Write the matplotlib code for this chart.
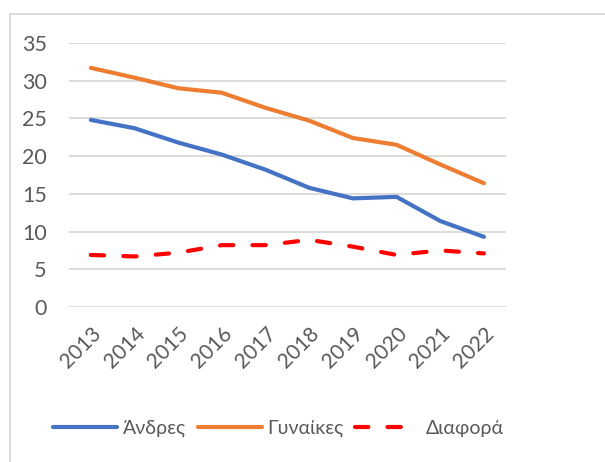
import matplotlib
matplotlib.use("Agg")
import matplotlib.pyplot as plt
from matplotlib.lines import Line2D

years = ["2013", "2014", "2015", "2016", "2017", "2018", "2019", "2020", "2021", "2022"]
andres = [24.8, 23.7, 21.8, 20.2, 18.2, 15.8, 14.4, 14.6, 11.4, 9.3]
gynaikes = [31.7, 30.4, 29.0, 28.4, 26.4, 24.7, 22.4, 21.5, 18.9, 16.4]
diafora = [6.9, 6.7, 7.2, 8.2, 8.2, 8.9, 8.0, 6.9, 7.5, 7.1]

plt.rcParams['font.family'] = ['Lato', 'DejaVu Sans']

fig = plt.figure(figsize=(6.05, 4.62), dpi=100)
ax = fig.add_axes([0.114, 0.3355, 0.722, 0.5715])

x = range(len(years))
ax.plot(x, andres, color="#4472C4", lw=3, solid_capstyle="round", label="Άνδρες", zorder=3)
ax.plot(x, gynaikes, color="#ED7D31", lw=3, solid_capstyle="round", label="Γυναίκες", zorder=3)
ax.plot(x, diafora, color="#FF0000", lw=3, linestyle=(0, (3.2, 4.6)), dash_capstyle="round",
        label="Διαφορά", zorder=3)

ax.set_xlim(-0.5, len(years) - 0.5)
ax.set_ylim(0, 35)
ax.set_yticks(range(0, 36, 5))
ax.set_xticks(list(x))
ax.set_xticklabels(years, rotation=45, ha="right", rotation_mode="anchor")
ax.grid(axis="y", color="#D9D9D9", lw=1.3)
ax.set_axisbelow(True)
for s in ax.spines.values():
    s.set_visible(False)
ax.tick_params(length=0, colors="#595959", labelsize=15)
ax.tick_params(axis="y", labelsize=15.5, pad=16)
ax.tick_params(axis="x", pad=12)

fig.legend(loc="center", bbox_to_anchor=(0.46, 0.073), ncol=3, frameon=False,
           fontsize=14, handlelength=3.3, handletextpad=0.3, columnspacing=0.6,
           labelcolor="#595959")

# chart border (top and left visible)
fig.add_artist(Line2D([10/605, 1], [1 - 14/462, 1 - 14/462], color="#D9D9D9", lw=1.3, transform=fig.transFigure))
fig.add_artist(Line2D([10/605, 10/605], [0, 1 - 14/462], color="#D9D9D9", lw=1.3, transform=fig.transFigure))

fig.savefig("out.png", dpi=100)
